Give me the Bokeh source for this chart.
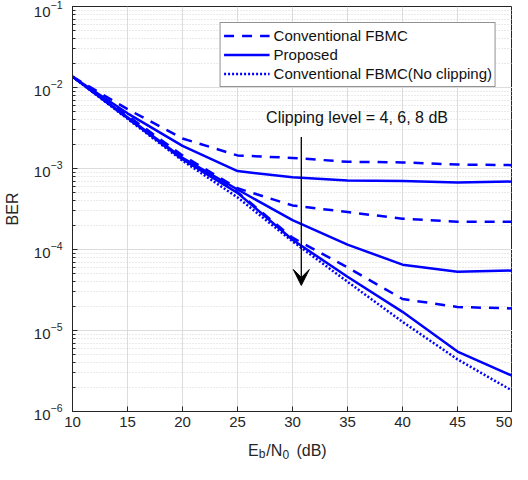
from bokeh.plotting import figure
from bokeh.layouts import column
from bokeh.models import Range1d, FixedTicker, Label, Arrow, VeeHead
from bokeh.core.properties import value
from bokeh.embed import file_html
from bokeh.resources import INLINE

# ---- data ----
snr_db = [10, 15, 20, 25, 30, 35, 40, 45, 50]
conv_4db = [1.36e-2, 5.4e-3, 2.35e-3, 1.45e-3, 1.35e-3, 1.21e-3, 1.19e-3, 1.12e-3, 1.10e-3]
prop_4db = [1.36e-2, 4.8e-3, 1.90e-3, 9.3e-4, 7.8e-4, 7.1e-4, 7.0e-4, 6.7e-4, 6.9e-4]
conv_6db = [1.36e-2, 4.5e-3, 1.45e-3, 5.7e-4, 3.5e-4, 2.9e-4, 2.4e-4, 2.2e-4, 2.2e-4]
prop_6db = [1.36e-2, 4.3e-3, 1.35e-3, 5.5e-4, 2.3e-4, 1.15e-4, 6.5e-5, 5.3e-5, 5.5e-5]
conv_8db = [1.36e-2, 4.2e-3, 1.30e-3, 5.1e-4, 1.40e-4, 6.0e-5, 2.45e-5, 1.95e-5, 1.87e-5]
prop_8db = [1.36e-2, 4.2e-3, 1.30e-3, 5.0e-4, 1.32e-4, 4.6e-5, 1.7e-5, 5.5e-6, 2.75e-6]
no_clip = [1.36e-2, 4.1e-3, 1.25e-3, 4.4e-4, 1.26e-4, 4.0e-5, 1.28e-5, 4.4e-6, 1.8e-6]

x_ticks = [10, 15, 20, 25, 30, 35, 40, 45, 50]
legend_labels = ["Conventional FBMC", "Proposed", "Conventional FBMC(No clipping)"]
note_text = "Clipping level = 4, 6, 8 dB"
arrow_x = 30.8
arrow_y_start = 2.45e-3
arrow_y_end = 3.6e-5
note_x = 27.6
note_y = 4.3e-3

# x-axis title pieces: E_b / N_0 (dB)  (anchored along the shared SNR axis)
xlabel_text = ["E", "b", "/N", "0", "(dB)"]
xlabel_is_sub = [False, True, False, True, False]
xlabel_at = [25.95, 26.94, 27.61, 29.10, 30.36]

FONT = "Liberation Sans"
TXT = "#262626"
BLUE = "#0000ff"
LW = 2.5
DASH = "10 8"
DOT = "2 2"

xr = Range1d(10, 50)
p = figure(width=512, height=434, y_axis_type="log",
           x_range=xr, y_range=Range1d(1e-6, 1e-1),
           output_backend="svg", toolbar_location=None,
           min_border_left=68, min_border_right=0,
           min_border_top=6, min_border_bottom=23)
p.background_fill_color = "white"
p.border_fill_color = "white"
p.outline_line_color = "#262626"
p.outline_line_width = 1

# grids
p.xgrid.ticker = FixedTicker(ticks=x_ticks)
p.xgrid.grid_line_color = "#dcdcdc"
p.ygrid.grid_line_color = "#dcdcdc"
p.ygrid.minor_grid_line_color = "#d4d4d4"
p.ygrid.minor_grid_line_dash = "1 2"

# axes
p.xaxis.ticker = FixedTicker(ticks=x_ticks)
for ax in (p.xaxis[0], p.yaxis[0]):
    ax.axis_line_color = "#262626"
    ax.major_tick_line_color = "#262626"
    ax.minor_tick_line_color = "#262626"
    ax.major_tick_in = 5
    ax.major_tick_out = 0
    ax.minor_tick_in = 3
    ax.minor_tick_out = 0
    ax.major_label_text_font = FONT
    ax.major_label_text_font_size = "15px"
    ax.major_label_text_color = TXT
p.xaxis.minor_tick_line_color = None
p.xaxis.major_label_standoff = 5
p.yaxis.major_label_standoff = 10
p.yaxis.axis_label = "BER"
p.yaxis.axis_label_text_font = FONT
p.yaxis.axis_label_text_font_size = "16px"
p.yaxis.axis_label_text_font_style = "normal"
p.yaxis.axis_label_text_color = TXT
p.yaxis.axis_label_standoff = 10

# curves
p.line(snr_db, conv_4db, line_color=BLUE, line_width=LW, line_dash=DASH, legend_label=legend_labels[0])
p.line(snr_db, prop_4db, line_color=BLUE, line_width=LW, legend_label=legend_labels[1])
p.line(snr_db, no_clip, line_color=BLUE, line_width=LW, line_dash=DOT, legend_label=legend_labels[2])
p.line(snr_db, conv_6db, line_color=BLUE, line_width=LW, line_dash=DASH)
p.line(snr_db, prop_6db, line_color=BLUE, line_width=LW)
p.line(snr_db, conv_8db, line_color=BLUE, line_width=LW, line_dash=DASH)
p.line(snr_db, prop_8db, line_color=BLUE, line_width=LW)

# legend
lg = p.legend[0]
lg.location = "top_right"
lg.margin = 16
lg.padding = 3
lg.spacing = 0
lg.label_height = 19
lg.glyph_height = 19
lg.glyph_width = 46
lg.label_standoff = 4
lg.label_text_font = FONT
lg.label_text_font_size = "15px"
lg.label_text_color = "#111111"
lg.border_line_color = "#262626"
lg.border_line_width = 1
lg.background_fill_color = "white"
lg.background_fill_alpha = 1.0

# annotation text and arrow
p.add_layout(Label(x=note_x, y=note_y, text=note_text, text_font=FONT,
                   text_font_size="16px", text_color="#111111", text_baseline="middle"))
p.add_layout(Arrow(x_start=arrow_x, y_start=arrow_y_start, x_end=arrow_x, y_end=arrow_y_end,
                   line_color="black", line_width=1.3,
                   end=VeeHead(size=16, fill_color="black", line_color="black")))

# ---- strip below the chart carrying the x-axis title with subscripts ----
p2 = figure(width=512, height=26, x_range=xr, y_range=Range1d(0, 26),
            output_backend="svg", toolbar_location=None,
            x_axis_location=None, y_axis_location=None,
            min_border_left=68, min_border_right=0, min_border_top=0, min_border_bottom=0)
p2.grid.visible = False
p2.outline_line_color = None
p2.background_fill_color = "white"
p2.border_fill_color = "white"

main_x = [x for x, s in zip(xlabel_at, xlabel_is_sub) if not s]
main_t = [t for t, s in zip(xlabel_text, xlabel_is_sub) if not s]
sub_x = [x for x, s in zip(xlabel_at, xlabel_is_sub) if s]
sub_t = [t for t, s in zip(xlabel_text, xlabel_is_sub) if s]
p2.text(x=main_x, y=[10.5] * len(main_x), text=main_t, text_font=value(FONT),
        text_font_size="16px", text_color=TXT, text_baseline="alphabetic", text_align="left")
p2.text(x=sub_x, y=[6.5] * len(sub_x), text=sub_t, text_font=value(FONT),
        text_font_size="12px", text_color=TXT, text_baseline="alphabetic", text_align="left")

layout = column(p, p2, spacing=0)
open("out.html", "w").write(file_html(layout, INLINE))
